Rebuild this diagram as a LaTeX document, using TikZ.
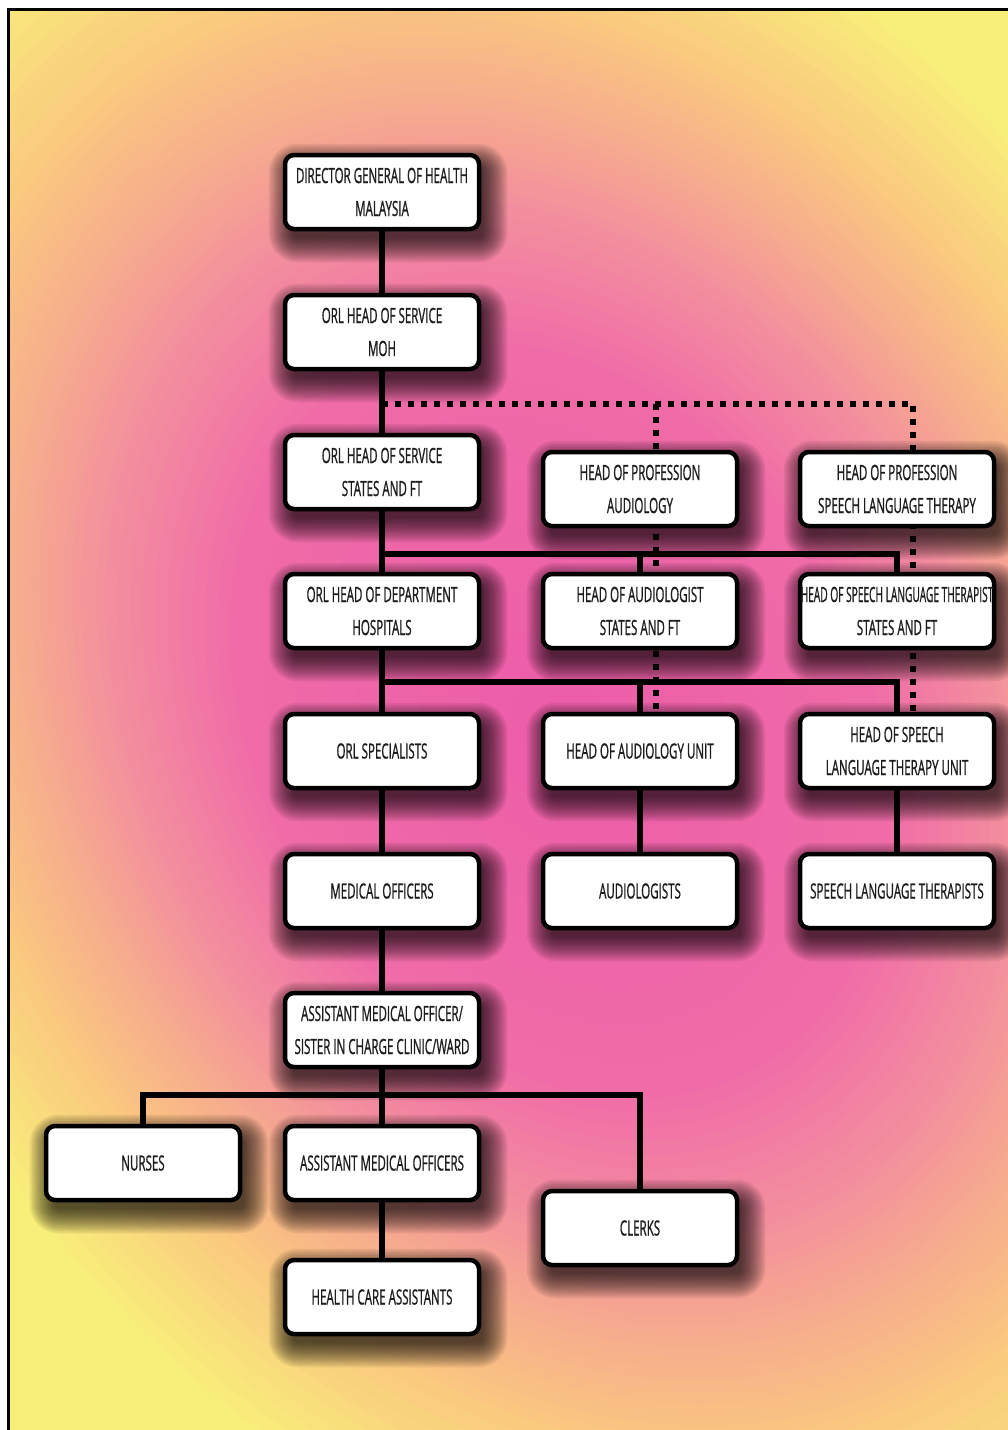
\documentclass[tikz,border=0pt]{standalone}
\usepackage{fontspec}
\setmainfont{Open Sans}[FakeStretch=0.55, FakeBold=0.8]
\definecolor{g0}{RGB}{236,92,168}
\definecolor{g1}{RGB}{240,108,168}
\definecolor{g2}{RGB}{243,142,158}
\definecolor{g3}{RGB}{246,170,143}
\definecolor{g4}{RGB}{250,198,128}
\definecolor{g5}{RGB}{248,238,122}
\definecolor{txt}{RGB}{28,28,28}
\pgfdeclarelayer{back}
\pgfdeclarelayer{shadow}
\pgfdeclarelayer{lines}
\pgfsetlayers{back,lines,shadow,main}
\tikzset{
  box/.style={draw=black, line width=4.5pt, rounded corners=9pt, fill=white,
    minimum width=194pt, minimum height=74pt, inner sep=0pt, align=center,
    text=txt, font=\fontsize{21}{33}\selectfont},
  conn/.style={draw=black, line width=6.5pt},
  dotline/.style={draw=black, line width=6pt, dash pattern=on 6pt off 7pt},
  shadowpiece/.style={fill=black, fill opacity=0.075}
}
\newcommand{\boxshadow}[1]{%
  \foreach \e in {-4,-2,...,20}{%
    \pgfmathsetmacro{\rc}{max(3,9+\e)}%
    \fill[shadowpiece, rounded corners=\rc pt] ([shift={(6-\e,11-\e)}]#1.north west) rectangle ([shift={(6+\e,11+\e)}]#1.south east);
  }%
}
\begin{document}
\begin{tikzpicture}[x=1pt,y=-1pt]
\useasboundingbox (0,0) rectangle (1008,1430);
\begin{pgfonlayer}{back}
  \fill[white] (0,0) rectangle (1008,1430);
  \begin{scope}
    \clip (8,9) rectangle (1030,1450);
    \foreach \ca/\cb/\da/\db in {g5/g5/0.95/1.7, g4/g5/0.77/0.95, g3/g4/0.65/0.77, g2/g3/0.55/0.65, g1/g2/0.4/0.55, g0/g1/0.02/0.4}{
      \foreach \k in {0,...,9}{
        \pgfmathsetmacro{\dd}{\db-(\db-\da)*\k/10}
        \pgfmathsetmacro{\pp}{\k*10}
        \fill[fill=\ca!\pp!\cb, rotate around={-60:(560,720)}] (560,720) ellipse [x radius=\dd*1000, y radius=\dd*760];
      }
    }
  \end{scope}
  \draw[line width=3pt] (8,9) rectangle (1040,1460);
\end{pgfonlayer}

% nodes
\node[box] (dg)  at (382,192)  {DIRECTOR GENERAL OF HEALTH\\MALAYSIA};
\node[box] (moh) at (382,332)  {ORL HEAD OF SERVICE\\MOH};
\node[box] (sta) at (382,472)  {ORL HEAD OF SERVICE\\STATES AND FT};
\node[box] (hpa) at (640,489)  {HEAD OF PROFESSION\\AUDIOLOGY};
\node[box] (hps) at (897,489)  {HEAD OF PROFESSION\\SPEECH LANGUAGE THERAPY};
\node[box] (hod) at (382,611)  {ORL HEAD OF DEPARTMENT\\HOSPITALS};
\node[box] (haa) at (640,611)  {HEAD OF AUDIOLOGIST\\STATES AND FT};
\node[box] (hsa) at (897,611)  {\scalebox{0.88}[1]{HEAD OF SPEECH LANGUAGE THERAPIST}\\STATES AND FT};
\node[box] (spc) at (382,751)  {ORL SPECIALISTS};
\node[box] (hau) at (640,751)  {HEAD OF AUDIOLOGY UNIT};
\node[box] (hsu) at (897,751)  {HEAD OF SPEECH\\LANGUAGE THERAPY UNIT};
\node[box] (mo)  at (382,891)  {MEDICAL OFFICERS};
\node[box] (aud) at (640,891)  {AUDIOLOGISTS};
\node[box] (slt) at (897,891)  {SPEECH LANGUAGE THERAPISTS};
\node[box] (sis) at (382,1030) {ASSISTANT MEDICAL OFFICER/\\SISTER IN CHARGE CLINIC/WARD};
\node[box] (nur) at (143,1163) {NURSES};
\node[box] (amo) at (382,1163) {ASSISTANT MEDICAL OFFICERS};
\node[box] (clk) at (640,1228) {CLERKS};
\node[box] (hca) at (382,1297) {HEALTH CARE ASSISTANTS};

\begin{pgfonlayer}{shadow}
  \foreach \n in {dg,moh,sta,hpa,hps,hod,haa,hsa,spc,hau,hsu,mo,aud,slt,sis,nur,amo,clk,hca}{\boxshadow{\n}}
\end{pgfonlayer}

% connectors
\begin{pgfonlayer}{lines}
  \coordinate (dotL) at (382,404);
  \coordinate (dotA) at (656,404);
  \coordinate (dotS) at (913,404);
  \draw[dotline] (dotL) -- (dotS) -- (dotS |- hsu.north);
  \draw[dotline] (dotA) -- (dotA |- hau.north);

  \draw[conn] (dg) -- (sis);
  \coordinate (j1) at (382,554);
  \draw[conn] (j1) -| (hsa);
  \draw[conn] (j1 -| haa) -- (haa);
  \coordinate (j2) at (382,682);
  \draw[conn] (j2) -| (hsu);
  \draw[conn] (j2 -| hau) -- (hau);
  \draw[conn] (hau) -- (aud);
  \draw[conn] (hsu) -- (slt);
  \coordinate (j3) at (382,1095);
  \draw[conn] (sis) -- (j3);
  \draw[conn] (nur) |- (j3) -| (clk);
  \draw[conn] (j3) -- (amo);
  \draw[conn] (amo) -- (hca);
\end{pgfonlayer}
\end{tikzpicture}
\end{document}
